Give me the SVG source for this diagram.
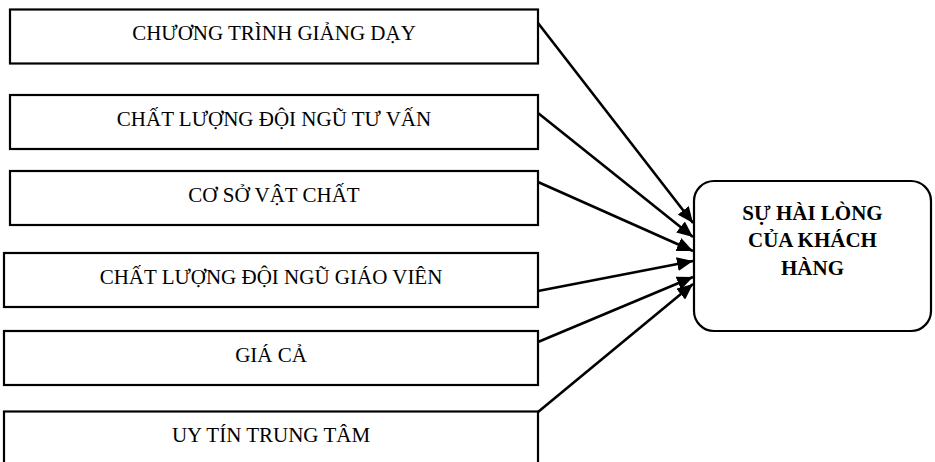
<svg xmlns="http://www.w3.org/2000/svg" width="935" height="462" viewBox="0 0 935 462">
<style>
.box{fill:#fff;stroke:#000;stroke-width:2.2}
.t{font-family:"Liberation Serif","Times New Roman",serif;font-size:21px;fill:#000;text-anchor:middle}
.b{font-weight:bold}
.c{stroke:#000;stroke-width:2.6;fill:none;marker-end:url(#ah)}
</style>
<defs>
<marker id="ah" viewBox="0 0 16 14" refX="16" refY="7" markerWidth="16" markerHeight="14" markerUnits="userSpaceOnUse" orient="auto">
<path d="M0,0 L16,7 L0,14 z" fill="#000"/>
</marker>
</defs>
<rect width="935" height="462" fill="#fff"/>
<g id="connectors">
<line class="c" x1="538" y1="23" x2="693" y2="223"/>
<line class="c" x1="538" y1="113" x2="693" y2="237"/>
<line class="c" x1="538" y1="182" x2="693" y2="251"/>
<line class="c" x1="538" y1="291" x2="693" y2="261"/>
<line class="c" x1="538" y1="342" x2="693" y2="277"/>
<line class="c" x1="538" y1="412" x2="693" y2="284"/>
</g>
<g id="n1"><rect class="box" x="10" y="9.5" width="528" height="54"/><text class="t" x="274" y="40">CHƯƠNG TRÌNH GIẢNG DẠY</text></g>
<g id="n2"><rect class="box" x="10" y="95" width="528" height="54"/><text class="t" x="274" y="126">CHẤT LƯỢNG ĐỘI NGŨ TƯ VẤN</text></g>
<g id="n3"><rect class="box" x="10" y="171" width="528" height="54"/><text class="t" x="274" y="202">CƠ SỞ VẬT CHẤT</text></g>
<g id="n4"><rect class="box" x="4" y="253" width="534" height="54"/><text class="t" x="271" y="284">CHẤT LƯỢNG ĐỘI NGŨ GIÁO VIÊN</text></g>
<g id="n5"><rect class="box" x="4" y="331" width="534" height="54"/><text class="t" x="271" y="362">GIÁ CẢ</text></g>
<g id="n6"><rect class="box" x="4" y="411.5" width="534" height="60"/><text class="t" x="271" y="442">UY TÍN TRUNG TÂM</text></g>
<g id="n7"><rect class="box" x="694" y="181" width="237" height="150" rx="20" ry="20"/>
<text class="t b" x="812.5" y="220">SỰ HÀI LÒNG</text>
<text class="t b" x="812.5" y="247">CỦA KHÁCH</text>
<text class="t b" x="812.5" y="275">HÀNG</text></g>
</svg>
